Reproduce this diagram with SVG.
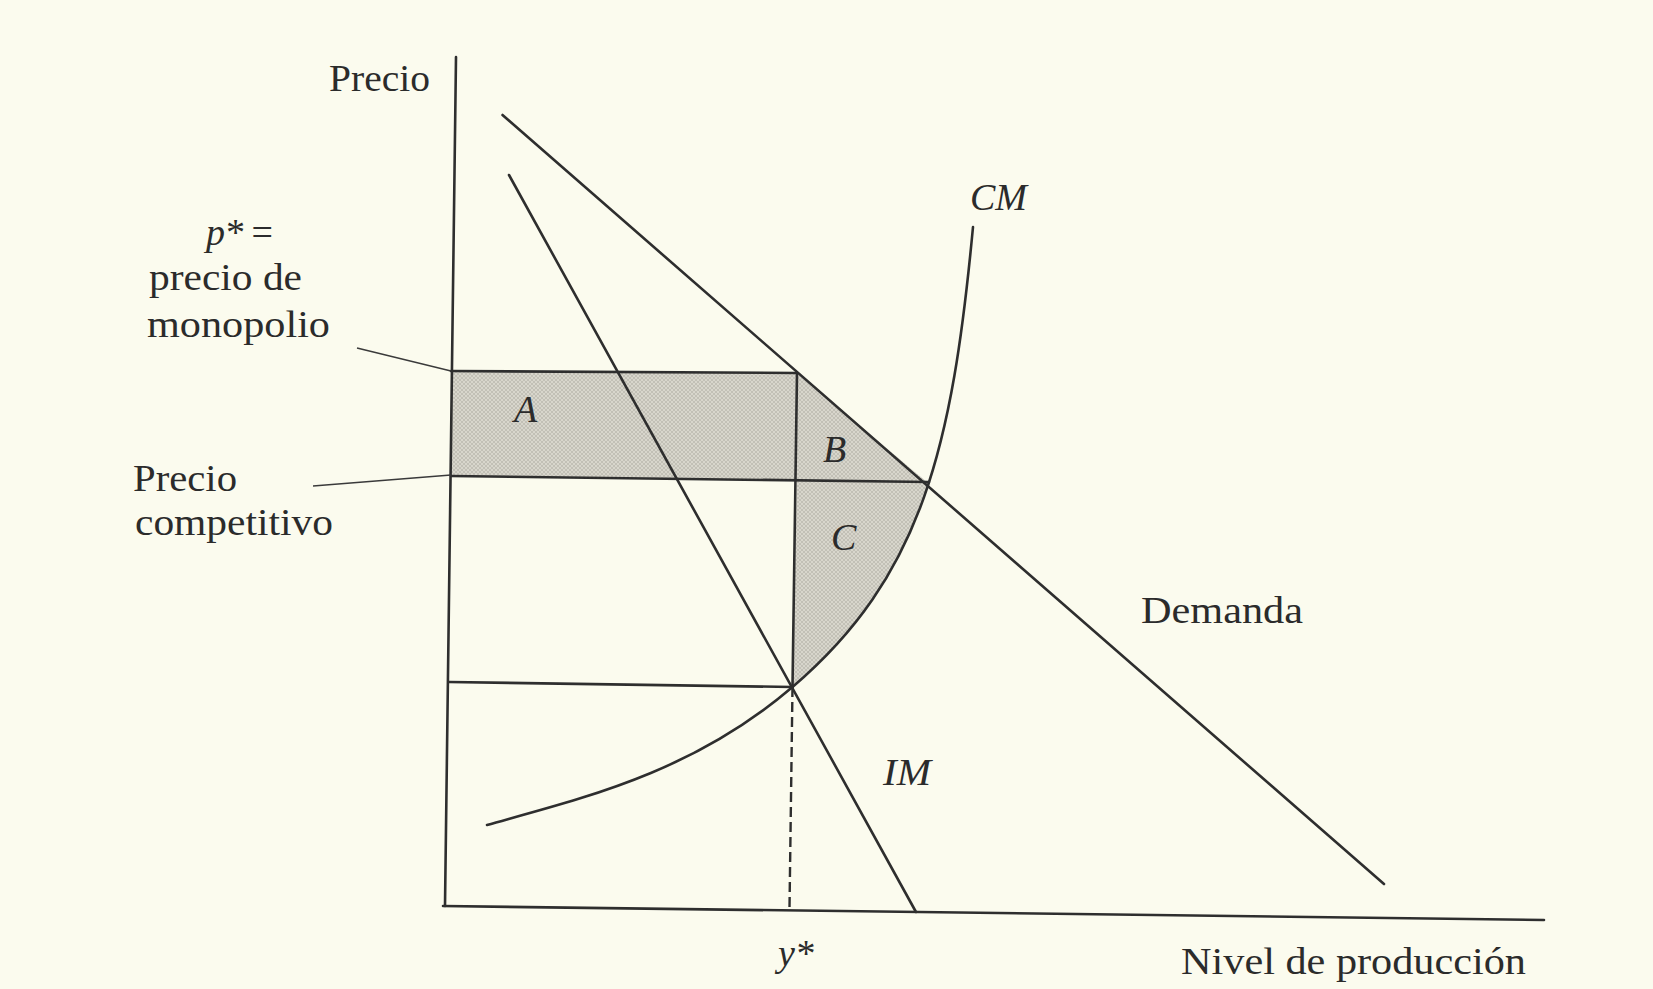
<svg xmlns="http://www.w3.org/2000/svg" width="1653" height="989" viewBox="0 0 1653 989">
  <defs>
    <pattern id="stipple" width="4" height="4" patternUnits="userSpaceOnUse">
      <rect width="4" height="4" fill="#d8d6cc"/>
      <path d="M0,4 L4,0 M0,0 L4,4" stroke="#bcbab0" stroke-width="0.8"/>
    </pattern>
  </defs>
  <style>
    .ln { stroke: #2e2e2e; stroke-width: 2.6; fill: none; stroke-linecap: round; }
    .thin { stroke: #3a3a3a; stroke-width: 1.4; fill: none; }
    .dash { stroke: #2e2e2e; stroke-width: 2.4; fill: none; stroke-dasharray: 10 5; }
    .shade { fill: url(#stipple); stroke: none; }
    .lbl { font-family: "Liberation Serif", "Times New Roman", serif; font-size: 38px; fill: #2b2b2b; }
    .it { font-style: italic; }
  </style>
  <rect width="1653" height="989" fill="#fbfbee"/>

  <g id="shaded-areas">
    <path id="area-AB" class="shade" d="M451,371 L797,373 L928,483 L451,476 Z"/>
    <path id="area-C" class="shade" d="M797,481.5 L929,482.2 C902.92,563.13 862.05,627.67 792.5,687 Z"/>
  </g>

  <g id="axes">
    <line class="ln" x1="456" y1="57" x2="445" y2="906"/>
    <line class="ln" x1="443" y1="906" x2="1544" y2="920"/>
  </g>

  <g id="connectors">
    <line id="demand" class="ln" x1="502.5" y1="115" x2="1384" y2="884"/>
    <line id="im" class="ln" x1="509" y1="175" x2="916" y2="912"/>
    <path id="cm" class="ln" d="M487,825 C587,797 692.5,772.3 792.5,687 C922.5,576.1 952.3,447 973,227"/>
    <line id="p-star" class="ln" x1="451" y1="371" x2="797" y2="373"/>
    <line id="p-comp" class="ln" x1="451" y1="476" x2="929" y2="482"/>
    <line id="low-h" class="ln" x1="449" y1="682" x2="792.5" y2="687"/>
    <line id="y-vert" class="ln" x1="797" y1="373" x2="792.5" y2="687"/>
    <line id="y-dash" class="dash" x1="792.5" y1="687" x2="789.5" y2="908"/>
    <line id="ptr-pstar" class="thin" x1="357" y1="348" x2="451" y2="371"/>
    <line id="ptr-pcomp" class="thin" x1="313" y1="486" x2="451" y2="475"/>
  </g>

  <g id="labels">
    <text class="lbl" x="329" y="91" textLength="101" lengthAdjust="spacingAndGlyphs">Precio</text>
    <text class="lbl" x="206" y="245" textLength="67" lengthAdjust="spacing"><tspan class="it">p*</tspan> =</text>
    <text class="lbl" x="149" y="290" textLength="153" lengthAdjust="spacingAndGlyphs">precio de</text>
    <text class="lbl" x="147" y="337" textLength="183" lengthAdjust="spacingAndGlyphs">monopolio</text>
    <text class="lbl" x="133" y="491" textLength="104" lengthAdjust="spacingAndGlyphs">Precio</text>
    <text class="lbl" x="135" y="535" textLength="198" lengthAdjust="spacingAndGlyphs">competitivo</text>
    <text class="lbl it" x="970" y="210" textLength="57" lengthAdjust="spacingAndGlyphs">CM</text>
    <text class="lbl it" x="514" y="422">A</text>
    <text class="lbl it" x="823" y="462">B</text>
    <text class="lbl it" x="831" y="550">C</text>
    <text class="lbl it" x="883" y="785" textLength="48" lengthAdjust="spacingAndGlyphs">IM</text>
    <text class="lbl" x="1141" y="623" textLength="162" lengthAdjust="spacingAndGlyphs">Demanda</text>
    <text class="lbl it" x="778" y="966">y*</text>
    <text class="lbl" x="1181" y="974" textLength="345" lengthAdjust="spacingAndGlyphs">Nivel de producción</text>
  </g>
</svg>
